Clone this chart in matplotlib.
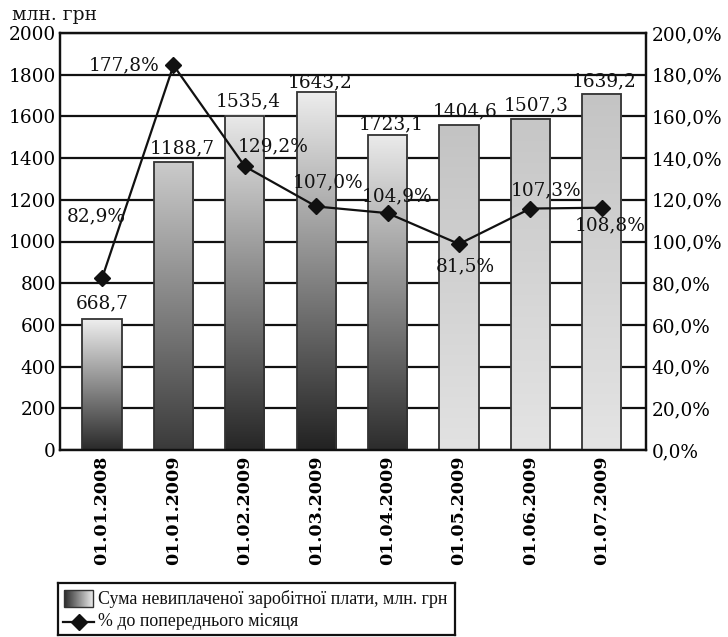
import numpy as np
import matplotlib
matplotlib.use("Agg")
import matplotlib.pyplot as plt
from matplotlib.colors import to_rgb
from matplotlib.patches import Rectangle

# ---- data ----
categories = ["01.01.2008", "01.01.2009", "01.02.2009", "01.03.2009",
              "01.04.2009", "01.05.2009", "01.06.2009", "01.07.2009"]
bar_values = [628, 1380, 1602, 1718, 1512, 1558, 1588, 1708]
bar_labels = ["668,7", "1188,7", "1535,4", "1643,2", "1723,1", "1404,6", "1507,3", "1639,2"]
pct_values = [82.5, 184.5, 136.0, 116.8, 113.6, 98.8, 115.8, 116.2]
pct_labels = ["82,9%", "177,8%", "129,2%", "107,0%", "104,9%", "81,5%", "107,3%", "108,8%"]
left_ticks = [0, 200, 400, 600, 800, 1000, 1200, 1400, 1600, 1800, 2000]
right_ticks = [0, 20, 40, 60, 80, 100, 120, 140, 160, 180, 200]
right_tick_labels = ["0,0%", "20,0%", "40,0%", "60,0%", "80,0%", "100,0%",
                     "120,0%", "140,0%", "160,0%", "180,0%", "200,0%"]
legend_bar = "Сума невиплаченої заробітної плати, млн. грн"
legend_line = "% до попереднього місяця"
y_unit = "млн. грн"

# ---- styles / positions ----
bar_top_colors = ["#eeeeee", "#cbcbcb", "#e9e9e9", "#ededed", "#ebebeb", "#c3c3c3", "#c6c6c6", "#c4c4c4"]
bar_bot_colors = ["#2a2a2a", "#3a3a3a", "#262626", "#222222", "#2c2c2c", "#e2e2e2", "#e4e4e4", "#e4e4e4"]
bar_lab_off = [(0, 16), (9, 14), (3, 15), (4, 9), (4, 10), (6, 14), (6, 14), (2, 13)]
pct_lab_off = [(-6, 62), (-49, 0), (28, 20), (12, 24), (9, 17), (6, -22), (16, 18), (8, -18)]

SERIF = ["DejaVu Serif"]
FS = 13.3

W, H = 728, 637
fig = plt.figure(figsize=(W / 100, H / 100), dpi=100)
L, R, T, B = 60, 646, 33, 450
ax = fig.add_axes([L / W, 1 - B / H, (R - L) / W, (B - T) / H])
ax2 = ax.twinx()

x = np.arange(len(categories))
bw = 0.55

# gridlines
for v in left_ticks:
    ax.axhline(v, color="#111111", lw=1.6, zorder=1)

# gradient bars
for i, (v, ct, cb) in enumerate(zip(bar_values, bar_top_colors, bar_bot_colors)):
    t = np.linspace(0, 1, 256)[:, None]
    c0 = np.array(to_rgb(cb)); c1 = np.array(to_rgb(ct))
    img = (c0[None, None, :] * (1 - t[..., None]) + c1[None, None, :] * t[..., None])
    ax.imshow(img, extent=[x[i] - bw / 2, x[i] + bw / 2, 0, v], origin="lower",
              aspect="auto", zorder=2, interpolation="bilinear")
bars = ax.bar(x, bar_values, width=bw, facecolor="none", edgecolor="#333333",
              lw=1.3, zorder=3)

ax.set_xlim(-0.59, 7.62)
ax.set_ylim(0, 2000)
ax.set_yticks(left_ticks)
ax.set_yticklabels([str(v) for v in left_ticks], fontsize=FS, family=SERIF)
ax.set_xticks(x)
ax.set_xticklabels(categories, rotation=90, fontsize=12.5, family=SERIF,
                   fontweight="bold")
ax.tick_params(axis="both", length=0, pad=3)
ax.tick_params(axis="x", pad=4)

for sp in ax.spines.values():
    sp.set_linewidth(1.6)
    sp.set_color("#111111")

# line
ax2.plot(x, pct_values, color="#111111", lw=1.6, marker="D", ms=8,
         mfc="#111111", mec="#111111", zorder=4)
ax2.set_ylim(0, 200)
ax2.set_yticks(right_ticks)
ax2.set_yticklabels(right_tick_labels, fontsize=FS, family=SERIF)
ax2.tick_params(axis="y", length=0, pad=4)
for sp in ax2.spines.values():
    sp.set_linewidth(1.6)
    sp.set_color("#111111")

# labels
for i, (v, lab) in enumerate(zip(bar_values, bar_labels)):
    dx, dy = bar_lab_off[i]
    ax.annotate(lab, xy=(x[i], v), xytext=(dx, dy), textcoords="offset pixels",
                ha="center", va="center", fontsize=FS, family=SERIF, zorder=5,
                color="#111111")
for i, (v, lab) in enumerate(zip(pct_values, pct_labels)):
    dx, dy = pct_lab_off[i]
    ax2.annotate(lab, xy=(x[i], v), xytext=(dx, dy), textcoords="offset pixels",
                 ha="center", va="center", fontsize=FS, family=SERIF, zorder=5,
                 color="#111111")

fig.text(12 / W, 1 - 15 / H, y_unit, fontsize=13.5, family=SERIF, ha="left",
         va="center", color="#111111")

# legend (manual)
lx0, lx1, ly0, ly1 = 58, 455, 583, 635
lg = fig.add_axes([lx0 / W, 1 - ly1 / H, (lx1 - lx0) / W, (ly1 - ly0) / H])
lg.set_xticks([]); lg.set_yticks([])
for sp in lg.spines.values():
    sp.set_linewidth(1.6)
    sp.set_color("#111111")
t = np.linspace(0, 1, 128)[None, :]
c0 = np.array(to_rgb("#2a2a2a")); c1 = np.array(to_rgb("#f0f0f0"))
gimg = c0[None, None, :] * (1 - t[..., None]) + c1[None, None, :] * t[..., None]
lg.imshow(gimg, extent=[64, 93, 607, 590], aspect="auto", interpolation="bilinear")
lg.add_patch(Rectangle((64, 590), 29, 17, fill=False, ec="#333333", lw=1.0))
lg.plot([63, 94], [622, 622], color="#111111", lw=1.6)
lg.plot([78.5], [622], marker="D", ms=8, color="#111111")
lg.set_xlim(lx0, lx1)
lg.set_ylim(ly1, ly0)
lg.text(98, 598.5, legend_bar, fontsize=12.9, family=["Liberation Serif"],
        va="center", ha="left", color="#111111")
lg.text(98, 622, legend_line, fontsize=12.9, family=["Liberation Serif"],
        va="center", ha="left", color="#111111")

fig.savefig("out.png", dpi=100)
